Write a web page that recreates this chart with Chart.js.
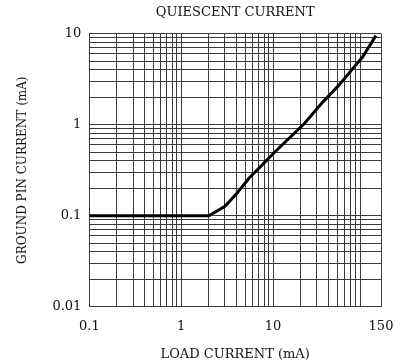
<!DOCTYPE html>
<html lang="en">

<head>
  <meta charset="UTF-8" />
  <meta name="viewport" content="width=device-width, initial-scale=1.0" />
  <title>Quiescent Current</title>
  <style>
    body { margin: 0; background: #fff; }
    #wrap { width: 406px; height: 364px; }
  </style>
</head>

<body>
  <div id="wrap"><canvas id="quiescentChart"></canvas></div>
  <script src="https://cdn.jsdelivr.net/npm/chart.js@4.4.1/dist/chart.umd.min.js"></script>

  <script>
    // ground pin current vs load current, both in mA
    const loadCurrent = [0.1, 2, 3, 4, 5.5, 7.8, 10, 22, 35, 52, 72, 94, 132];
    const groundCurrent = [0.1, 0.1, 0.127, 0.174, 0.26, 0.37, 0.48, 1.03, 1.78, 2.7, 4.0, 5.5, 9.5];

    // grid lines and labelled ticks
    const xGridValues = [0.1, 0.2, 0.3, 0.4, 0.5, 0.6, 0.7, 0.8, 0.9,
      1, 2, 3, 4, 5, 6, 7, 8, 9,
      10, 20, 30, 40, 50, 60, 70, 80, 90, 150];
    const xTickLabels = ["0.1", "1", "10", "150"];
    const yGridValues = [0.01, 0.02, 0.03, 0.04, 0.05, 0.06, 0.07, 0.08, 0.09,
      0.1, 0.2, 0.3, 0.4, 0.5, 0.6, 0.7, 0.8, 0.9,
      1, 2, 3, 4, 5, 6, 7, 8, 9, 10];
    const yTickLabels = ["0.01", "0.1", "1", "10"];

    const serif = "'DejaVu Serif', 'Liberation Serif', serif";
    const gridColor = "#3a3a3a";

    const labelFor = (labels) => (value) => {
      const hit = labels.find((l) => Math.abs(parseFloat(l) - value) < value * 1e-6);
      return hit === undefined ? "" : hit;
    };

    const points = loadCurrent.map((x, i) => ({ x: x, y: groundCurrent[i] }));

    new Chart(document.getElementById("quiescentChart"), {
      type: "line",
      data: {
        datasets: [
          {
            data: points,
            borderColor: "#000",
            borderWidth: 3,
            pointRadius: 0,
            tension: 0,
            fill: false,
          },
        ],
      },
      options: {
        responsive: true,
        maintainAspectRatio: false,
        animation: false,
        layout: { padding: { left: 16, right: 25, top: 0, bottom: 2 } },
        plugins: {
          legend: { display: false },
          tooltip: { enabled: false },
          title: {
            display: true,
            fullSize: false,
            text: "QUIESCENT CURRENT",
            color: "#111",
            font: { family: serif, size: 13, weight: "normal" },
            padding: { top: 5, bottom: 13 },
          },
        },
        scales: {
          x: {
            type: "logarithmic",
            min: 0.1,
            max: 150,
            afterBuildTicks: (scale) => {
              scale.ticks = xGridValues.map((v) => ({ value: v }));
            },
            ticks: {
              autoSkip: false,
              maxRotation: 0,
              color: "#111",
              padding: 12,
              font: { family: serif, size: 13 },
              callback: labelFor(xTickLabels),
            },
            grid: { color: gridColor, lineWidth: 1, drawTicks: false },
            border: { color: gridColor, width: 1 },
            title: {
              display: true,
              text: "LOAD CURRENT (mA)",
              color: "#111",
              font: { family: serif, size: 13 },
              padding: { top: 0, bottom: 0 },
            },
          },
          y: {
            type: "logarithmic",
            min: 0.01,
            max: 10,
            afterBuildTicks: (scale) => {
              scale.ticks = yGridValues.map((v) => ({ value: v }));
            },
            ticks: {
              autoSkip: false,
              color: "#111",
              padding: 8,
              font: { family: serif, size: 13 },
              callback: labelFor(yTickLabels),
            },
            grid: { color: gridColor, lineWidth: 1, drawTicks: false },
            border: { color: gridColor, width: 1 },
            title: {
              display: true,
              text: "GROUND PIN CURRENT (mA)",
              color: "#111",
              font: { family: serif, size: 12 },
              padding: { top: 0, bottom: 14 },
            },
          },
        },
      },
    });
  </script>
</body>

</html>
